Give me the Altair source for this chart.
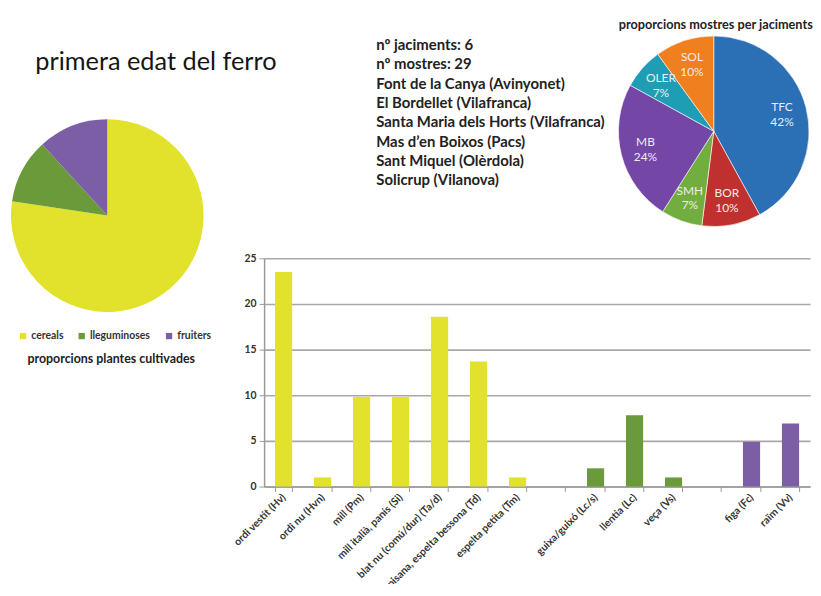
import altair as alt
import pandas as pd

# ---- data ----
bar_cats = ["ordi vestit (Hv)", "ordi nu (Hvn)", "mill (Pm)", "mill italià, panís (Si)",
            "blat nu (comú/dur) (Ta/d)", "pisana, espelta bessona (Td)", "espelta petita (Tm)",
            "guixa/guixó (Lc/s)", "llentia (Lc)", "veça (Vs)",
            "figa (Fc)", "raïm (Vv)"]
bar_vals = [23.5, 1.0, 9.8, 9.8, 18.6, 13.7, 1.0, 2.0, 7.8, 1.0, 4.9, 6.9]
bar_groups = ["cereals"] * 7 + ["lleguminoses"] * 3 + ["fruiters"] * 2
slot_order = bar_cats[:7] + ["_gap1"] + bar_cats[7:10] + ["_gap2"] + bar_cats[10:]

plant_groups = ["cereals", "lleguminoses", "fruiters"]
plant_share = [77.4, 10.8, 11.8]
plant_colors = ["#E2E22C", "#6A9A3A", "#7C5EA6"]

sites = ["TFC", "BOR", "SMH", "MB", "OLER", "SOL"]
site_pct = [42, 10, 7, 24, 7, 10]
site_colors = ["#2B6FB4", "#C0302E", "#72AD3F", "#7446A6", "#1E9DB4", "#EF7F1F"]

info_lines = ["nº jaciments: 6", "nº mostres: 29", "Font de la Canya (Avinyonet)",
              "El Bordellet (Vilafranca)", "Santa Maria dels Horts (Vilafranca)",
              "Mas d’en Boixos (Pacs)", "Sant Miquel (Olèrdola)", "Solicrup (Vilanova)"]

main_title = "primera edat del ferro"
left_pie_title = "proporcions plantes cultivades"
right_pie_title = "proporcions mostres per  jaciments"

FONT = "Lato"

bars_df = pd.DataFrame({"cat": bar_cats, "val": bar_vals, "grp": bar_groups})
plants_df = pd.DataFrame({"grp": plant_groups, "share": plant_share, "i": range(3)})
sites_df = pd.DataFrame({"site": sites, "pct": site_pct, "i": range(len(sites))})
sites_df["label"] = [f"{s}\n{p}%" for s, p in zip(sites, site_pct)]

# ---- bar chart ----
bars = alt.Chart(bars_df).mark_bar().encode(
    x=alt.X("cat:N", sort=slot_order, title=None,
            scale=alt.Scale(domain=slot_order, paddingInner=0.56, paddingOuter=0.28),
            axis=alt.Axis(labelAngle=-45, labelAlign="right", labelBaseline="middle",
                          labelFont=FONT, labelFontSize=10.5, labelFontWeight="bold",
                          labelColor="#333333", labelPadding=4, labelLimit=300,
                          labelExpr="indexof(datum.label, '_gap') === 0 ? '' : datum.label",
                          tickBand="extent", ticks=True, tickColor="#9A9A9A", tickSize=5,
                          domainColor="#9A9A9A", domainWidth=1.5, grid=False)),
    y=alt.Y("val:Q", title=None,
            scale=alt.Scale(domain=[0, 25]),
            axis=alt.Axis(values=[0, 5, 10, 15, 20, 25], labelFont=FONT, labelFontSize=10.5,
                          labelFontWeight="bold", labelColor="#333333",
                          gridColor="#A8A8A8", gridWidth=1.6, domainColor="#9A9A9A",
                          domainWidth=1.5, tickColor="#9A9A9A", tickSize=5, labelPadding=3)),
    color=alt.Color("grp:N", scale=alt.Scale(domain=plant_groups, range=plant_colors),
                    legend=None),
)

# ---- left pie ----
LX, LY = -158, -43
left_pie = alt.Chart(plants_df).mark_arc(outerRadius=97).encode(
    theta=alt.Theta("share:Q", stack=True),
    order=alt.Order("i:Q"),
    color=alt.Color("grp:N", scale=alt.Scale(domain=plant_groups, range=plant_colors),
                    legend=alt.Legend(orient="none", legendX=-248, legendY=73,
                                      direction="horizontal", title=None,
                                      symbolType="square", symbolSize=40,
                                      symbolStrokeWidth=0,
                                      labelFont=FONT, labelFontSize=10.5,
                                      labelFontWeight="bold", labelColor="#333333",
                                      columnPadding=13, labelOffset=3)),
    x=alt.value(LX), y=alt.value(LY),
)

# ---- right pie ----
RX, RY = 453, -128
right_pie = alt.Chart(sites_df).mark_arc(outerRadius=96, stroke="white",
                                         strokeWidth=0.6).encode(
    theta=alt.Theta("pct:Q", stack=True),
    order=alt.Order("i:Q"),
    color=alt.Color("site:N", scale=alt.Scale(domain=sites, range=site_colors),
                    legend=None),
    x=alt.value(RX), y=alt.value(RY),
)
right_labels = alt.Chart(sites_df).mark_text(
    radius=71, font=FONT, fontSize=12, color="#EDEDED", lineBreak="\n",
    lineHeight=15, baseline="middle", align="center",
).encode(
    theta=alt.Theta("pct:Q", stack=True),
    order=alt.Order("i:Q"),
    detail="site:N",
    text="label:N",
    x=alt.value(RX), y=alt.value(RY - 7),
)

# ---- texts ----
title_txt = alt.Chart(pd.DataFrame({"t": [main_title]})).mark_text(
    font=FONT, fontSize=25.5, color="#151515", align="center", baseline="alphabetic",
).encode(text="t:N", x=alt.value(-109), y=alt.value(-190))

right_title = alt.Chart(pd.DataFrame({"t": [right_pie_title]})).mark_text(
    font=FONT, fontSize=12.8, fontWeight="bold", color="#222222", align="center",
    baseline="middle",
).encode(text="t:N", x=alt.value(455), y=alt.value(-235))

left_title = alt.Chart(pd.DataFrame({"t": [left_pie_title]})).mark_text(
    font=FONT, fontSize=12.5, fontWeight="bold", color="#222222", align="center",
    baseline="middle",
).encode(text="t:N", x=alt.value(-154), y=alt.value(101))

info_txt = alt.Chart(pd.DataFrame({"t": ["\n".join(info_lines)]})).mark_text(
    font=FONT, fontSize=15, fontWeight="bold", color="#222222", align="left",
    baseline="alphabetic", lineBreak="\n", lineHeight=19.5,
).encode(text="t:N", x=alt.value(113), y=alt.value(-210))

chart = alt.layer(
    bars, left_pie, right_pie, right_labels, title_txt, right_title, left_title, info_txt
).resolve_scale(
    color="independent", theta="independent"
).properties(
    width=550, height=230,
    autosize=alt.AutoSizeParams(type="none"),
    padding={"left": 258, "top": 250, "right": 3, "bottom": 96},
    background="white",
).configure_view(stroke=None)

chart.save("out.html", embed_options={"renderer": "svg", "actions": False})
